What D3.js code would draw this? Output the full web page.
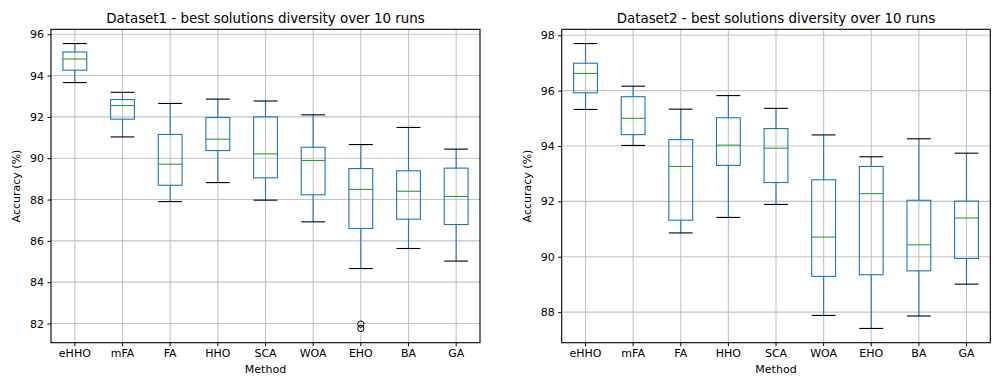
<!DOCTYPE html>
<html><head><meta charset="utf-8">
<script src="https://cdn.jsdelivr.net/npm/d3@7/dist/d3.min.js"></script>
<style>body{margin:0;background:#fff}svg{display:block}text{font-family:"DejaVu Sans",sans-serif;fill:#000}</style>
</head><body>
<script>
const methods = ["eHHO","mFA","FA","HHO","SCA","WOA","EHO","BA","GA"];
// [low whisker, Q1, median, Q3, high whisker]
const ds1Stats = [
  [93.66, 94.26, 94.80, 95.14, 95.55],
  [91.03, 91.89, 92.55, 92.84, 93.19],
  [87.90, 88.69, 89.71, 91.15, 92.65],
  [88.82, 90.37, 90.92, 91.97, 92.86],
  [87.97, 89.05, 90.21, 92.00, 92.77],
  [86.92, 88.23, 89.89, 90.53, 92.10],
  [84.66, 86.60, 88.49, 89.50, 90.66],
  [85.63, 87.05, 88.40, 89.39, 91.49],
  [85.02, 86.79, 88.15, 89.52, 90.44]
];
const ds1Outliers = [[],[],[],[],[],[],[81.97, 81.76],[],[]];
const ds2Stats = [
  [95.32, 95.92, 96.62, 96.99, 97.70],
  [94.02, 94.41, 95.00, 95.78, 96.16],
  [90.86, 91.32, 93.26, 94.23, 95.33],
  [91.42, 93.30, 94.03, 95.02, 95.82],
  [91.89, 92.68, 93.92, 94.63, 95.36],
  [87.88, 89.29, 90.71, 92.78, 94.40],
  [87.41, 89.35, 92.28, 93.26, 93.61],
  [87.86, 89.49, 90.43, 92.04, 94.26],
  [89.01, 89.94, 91.40, 92.01, 93.74]
];
const ds2Outliers = [[],[],[],[],[],[],[],[],[]];
const ds1Ticks = [82,84,86,88,90,92,94,96];
const ds2Ticks = [88,90,92,94,96,98];
const titles = ["Dataset1 - best solutions diversity over 10 runs","Dataset2 - best solutions diversity over 10 runs"];

const W = 994, H = 376;
const svg = d3.select("body").append("svg").attr("width", W).attr("height", H);

function panel(x0, x1, y0, y1, stats, outliers, ticks, title){
  const g = svg.append("g");
  const allVals = stats.flat().concat(outliers.flat());
  const mn = d3.min(allVals), mx = d3.max(allVals), pad = (mx - mn) * 0.05;
  const y = d3.scaleLinear().domain([mn - pad, mx + pad]).range([y1, y0]);
  const x = d3.scaleBand().domain(methods).range([x0, x1]).paddingInner(0).paddingOuter(0);
  const bw = x.bandwidth();
  const cx = m => x(m) + bw/2;
  // grid
  g.selectAll(".gy").data(ticks).join("line")
    .attr("x1", x0).attr("x2", x1).attr("y1", d => y(d)).attr("y2", d => y(d))
    .attr("stroke", "#c4c4c4").attr("stroke-width", 1.1);
  g.selectAll(".gx").data(methods).join("line")
    .attr("x1", d => cx(d)).attr("x2", d => cx(d)).attr("y1", y0).attr("y2", y1)
    .attr("stroke", "#c4c4c4").attr("stroke-width", 1.1);
  // boxes
  const boxW = bw * 0.5, capW = bw * 0.25;
  const bg = g.selectAll(".box").data(methods.map((m,i)=>({m, s: stats[i], o: outliers[i]}))).join("g");
  bg.append("line").attr("x1", d=>cx(d.m)).attr("x2", d=>cx(d.m)).attr("y1", d=>y(d.s[0])).attr("y2", d=>y(d.s[1])).attr("stroke","#1f77b4").attr("stroke-width",1.1);
  bg.append("line").attr("x1", d=>cx(d.m)).attr("x2", d=>cx(d.m)).attr("y1", d=>y(d.s[3])).attr("y2", d=>y(d.s[4])).attr("stroke","#1f77b4").attr("stroke-width",1.1);
  bg.append("rect").attr("x", d=>cx(d.m)-boxW/2).attr("width", boxW).attr("y", d=>y(d.s[3])).attr("height", d=>y(d.s[1])-y(d.s[3])).attr("fill","none").attr("stroke","#1f77b4").attr("stroke-width",1.1);
  bg.append("line").attr("x1", d=>cx(d.m)-boxW/2).attr("x2", d=>cx(d.m)+boxW/2).attr("y1", d=>y(d.s[2])).attr("y2", d=>y(d.s[2])).attr("stroke","#2ca02c").attr("stroke-width",1.1);
  [0,4].forEach(k => {
    bg.append("line").attr("x1", d=>cx(d.m)-capW).attr("x2", d=>cx(d.m)+capW).attr("y1", d=>y(d.s[k])).attr("y2", d=>y(d.s[k])).attr("stroke","#000").attr("stroke-width",1.1);
  });
  bg.each(function(d){
    d3.select(this).selectAll("circle").data(d.o).join("circle")
      .attr("cx", cx(d.m)).attr("cy", v => y(v)).attr("r", 3.2)
      .attr("fill","none").attr("stroke","#000").attr("stroke-width",1);
  });
  // spines
  g.append("rect").attr("x", x0).attr("y", y0).attr("width", x1-x0).attr("height", y1-y0)
    .attr("fill","none").attr("stroke","#000").attr("stroke-width",1.1);
  // axes
  const ya = g.append("g").attr("transform", `translate(${x0},0)`)
    .call(d3.axisLeft(y).tickValues(ticks).tickSize(3.5).tickPadding(3.5).tickFormat(d3.format("d")));
  ya.select(".domain").remove();
  ya.selectAll("text").style("font-size","11px").style("font-family","DejaVu Sans");
  const xa = g.append("g").attr("transform", `translate(0,${y1})`)
    .call(d3.axisBottom(x).tickSize(3.5).tickPadding(3.5));
  xa.select(".domain").remove();
  xa.selectAll("text").style("font-size","11px").style("font-family","DejaVu Sans");
  g.append("text").attr("x", (x0+x1)/2).attr("y", y0-6).attr("text-anchor","middle")
    .style("font-size","13.4px").text(title);
  g.append("text").attr("x", (x0+x1)/2).attr("y", y1+30).attr("text-anchor","middle")
    .style("font-size","11px").text("Method");
  g.append("text").attr("transform", `translate(${x0-31},${(y0+y1)/2}) rotate(-90)`).attr("text-anchor","middle")
    .style("font-size","11px").text("Accuracy (%)");
}

panel(51, 480, 29.3, 342.7, ds1Stats, ds1Outliers, ds1Ticks, titles[0]);
panel(561.7, 990.3, 29.3, 342.7, ds2Stats, ds2Outliers, ds2Ticks, titles[1]);
</script>
</body></html>
